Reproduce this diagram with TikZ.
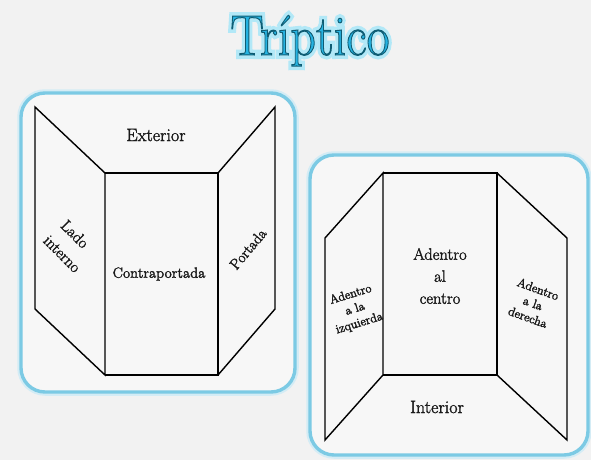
\documentclass[tikz,border=0pt]{standalone}
\usepackage{fontspec}
\usetikzlibrary{calc}
\definecolor{bg}{HTML}{F2F2F2}
\definecolor{panel}{HTML}{F7F7F7}
\definecolor{frame}{HTML}{7CCAE4}
\definecolor{frameglow}{HTML}{D4ECF5}
\definecolor{titlefill}{HTML}{25B3E2}
\definecolor{titleglow}{HTML}{A8E6F7}
\newcommand{\strokedtext}[3]{\special{pdf:code q 2 Tr #1 w #2 RG}#3\special{pdf:code Q}}
\newcommand{\dark}[1]{\strokedtext{0.3}{0.1 0.1 0.1}{#1}}
\tikzset{
  panelbox/.style={fill=panel, draw=frame, line width=3.4pt, rounded corners=24pt},
  panelglow/.style={draw=frameglow, line width=7.5pt, rounded corners=24pt},
  fold/.style={draw=black, line width=1.4pt, line join=miter},
  lbl/.style={font=\fontsize{15}{18}\selectfont, align=center, inner sep=0pt, text=black!90},
  small/.style={font=\fontsize{12.5}{15}\selectfont, align=center, inner sep=0pt, text=black!90},
  ttl/.style={font=\fontsize{57}{57}\selectfont, xscale=0.88, anchor=base, inner sep=0pt}
}
\begin{document}
\begin{tikzpicture}[x=1pt,y=-1pt]
\fill[bg] (0,0) rectangle (591,460);
\useasboundingbox (0,0) rectangle (591,460);
% title: glow underneath, then outlined cyan text
\node[ttl, text=titleglow] (titleglow) at (310,55) {\strokedtext{8}{0.70 0.91 0.97}{Tríptico}};
\node[ttl, text=titlefill] (title) at (310,55) {\strokedtext{1}{0.06 0.36 0.45}{Tríptico}};
% panels
\draw[panelglow] (21,93) rectangle (295,392);
\draw[panelbox] (21,93) rectangle (295,392);
\draw[panelglow] (310,155) rectangle (588,455);
\draw[panelbox] (310,155) rectangle (588,455);
% left triptych (exterior)
\coordinate (a1) at (35,107);
\coordinate (a2) at (105,173);
\coordinate (a3) at (105,375);
\coordinate (a4) at (35,309);
\coordinate (a5) at (218,173);
\coordinate (a6) at (218,375);
\coordinate (a7) at (275,107);
\coordinate (a8) at (275,309);
\draw[fold] (a1) -- (a2) -- (a3) -- (a4) -- cycle;
\draw[fold] (a2) -- (a5) -- (a6) -- (a3);
\draw[fold] (a5) -- (a7) -- (a8) -- (a6);
\node[lbl, font=\fontsize{18}{21}\selectfont] (ext) at (156,135) {\dark{Exterior}};
\node[lbl, font=\fontsize{14.7}{17}\selectfont] (contra) at (159,274) {\dark{Contraportada}};
\node[lbl, font=\fontsize{16}{17}\selectfont, rotate=-45] (lado) at (75,234) {\dark{Lado}};
\node[lbl, font=\fontsize{16}{17}\selectfont, rotate=-45] (interno) at (62,254) {\dark{interno}};
\node[lbl, font=\fontsize{15}{17}\selectfont, rotate=50] (portada) at (248,249) {\dark{Portada}};
% right triptych (interior)
\coordinate (b1) at (325,238);
\coordinate (b2) at (383,173);
\coordinate (b3) at (383,375);
\coordinate (b4) at (325,440);
\coordinate (b5) at (497,173);
\coordinate (b6) at (497,375);
\coordinate (b7) at (567,238);
\coordinate (b8) at (567,440);
\draw[fold] (b1) -- (b2) -- (b3) -- (b4) -- cycle;
\draw[fold] (b2) -- (b5) -- (b6) -- (b3);
\draw[fold] (b5) -- (b7) -- (b8) -- (b6);
\node[lbl, font=\fontsize{16.5}{22}\selectfont] (centro) at (440,276) {\dark{Adentro\\al\\centro}};
\node[lbl, font=\fontsize{18}{20}\selectfont] (interior) at (437,407) {\dark{Interior}};
\node[small, rotate=17] (izq) at (355,309) {\dark{Adentro\\a la\\izquierda}};
\node[small, rotate=-20] (der) at (533,303) {\dark{Adentro\\a la\\derecha}};
\end{tikzpicture}
\end{document}
